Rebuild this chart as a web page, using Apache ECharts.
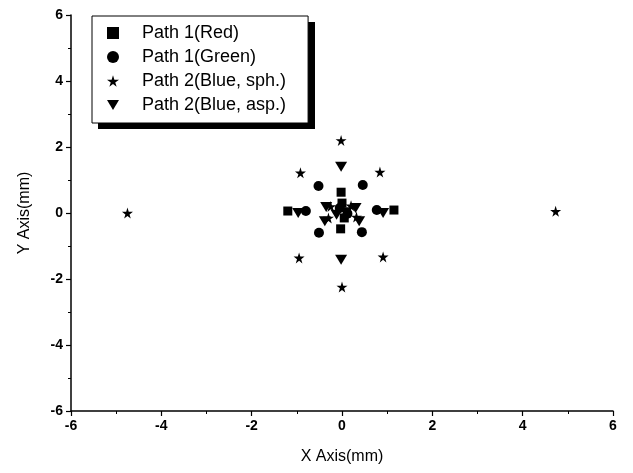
<!DOCTYPE html>
<html>
<head>
<meta charset="utf-8">
<script src="https://cdn.jsdelivr.net/npm/echarts@6/dist/echarts.min.js"></script>
<style>
  html, body { margin: 0; padding: 0; background: #fff; }
  #main { width: 633px; height: 473px; }
</style>
</head>
<body>
<div id="main"></div>
<script>
// 数据点 (x, y) 单位 mm
var redPath1 = [[-0.02, 0.63], [-0.03, -0.48], [-1.2, 0.06], [1.15, 0.09], [0.0, 0.3], [0.05, -0.15]];
var greenPath1 = [[-0.52, 0.82], [0.46, 0.85], [-0.51, -0.6], [0.44, -0.58], [-0.8, 0.06], [0.77, 0.09], [-0.05, 0.15], [0.12, -0.02]];
var blueSph = [[-4.75, 0.0], [4.73, 0.05], [-0.02, 2.2], [0.0, -2.24], [-0.92, 1.22], [0.84, 1.24], [-0.95, -1.36], [0.91, -1.33],
  [-0.25, 0.2], [0.2, 0.22], [-0.3, -0.15], [0.32, -0.12]];
var blueAsp = [[-0.02, 1.4], [-0.02, -1.42], [-0.97, 0.0], [0.91, 0.0], [-0.35, 0.18], [0.3, 0.15], [-0.38, -0.25], [0.38, -0.25], [-0.12, -0.05], [0.1, 0.02]];
var seriesNames = ['Path 1(Red)', 'Path 1(Green)', 'Path 2(Blue, sph.)', 'Path 2(Blue, asp.)'];

var starPath = 'path://M50,0 L61,35 L98,35 L68,57 L79,91 L50,70 L21,91 L32,57 L2,35 L39,35 Z';
var downTri = 'path://M0,0 L12,0 L6,10 Z';

var myChart = echarts.init(document.getElementById('main'));

function axisStyle(name, gap) {
	return {
		type: 'value',
		min: -6,
		max: 6,
		interval: 2,
		name: name,
		nameLocation: 'middle',
		nameGap: gap,
		nameTextStyle: { color: '#000', fontSize: 16, fontFamily: 'Liberation Sans, Arial' },
		splitLine: { show: false },
		axisLine: { onZero: false, lineStyle: { color: '#000', width: 1.5 } },
		axisTick: { inside: false, length: 5, lineStyle: { color: '#000', width: 1.2 } },
		minorTick: { show: true, splitNumber: 2, length: 3, lineStyle: { color: '#000', width: 1 } },
		axisLabel: { color: '#000', fontSize: 14, fontWeight: 'bold', fontFamily: 'Liberation Sans, Arial', margin: 8 }
	};
}

myChart.setOption({
	animation: false,
	grid: { left: 71, right: 20, top: 15, bottom: 62 },
	xAxis: axisStyle('X Axis(mm)', 38),
	yAxis: axisStyle('Y Axis(mm)', 38),
	// 图例阴影
	graphic: [{
		type: 'rect',
		z: 0,
		shape: { x: 98, y: 22, width: 217, height: 107 },
		style: { fill: '#000' }
	}],
	legend: {
		orient: 'vertical',
		left: 92,
		top: 16,
		z: 10,
		padding: [8, 22, 9, 15],
		itemGap: 6,
		itemWidth: 12,
		itemHeight: 12,
		backgroundColor: '#fff',
		borderColor: '#000',
		borderWidth: 1,
		textStyle: { color: '#000', fontSize: 18, fontFamily: 'Liberation Sans, Arial', padding: [0, 0, 0, 18] },
		data: seriesNames
	},
	series: [
		{ name: seriesNames[0], type: 'scatter', symbol: 'rect', symbolSize: 9, itemStyle: { color: '#000', opacity: 1 }, data: redPath1 },
		{ name: seriesNames[1], type: 'scatter', symbol: 'circle', symbolSize: 10, itemStyle: { color: '#000', opacity: 1 }, data: greenPath1 },
		{ name: seriesNames[2], type: 'scatter', symbol: starPath, symbolSize: 11, itemStyle: { color: '#000', opacity: 1 }, data: blueSph },
		{ name: seriesNames[3], type: 'scatter', symbol: downTri, symbolSize: [12, 10], itemStyle: { color: '#000', opacity: 1 }, data: blueAsp }
	]
});
</script>
</body>
</html>
